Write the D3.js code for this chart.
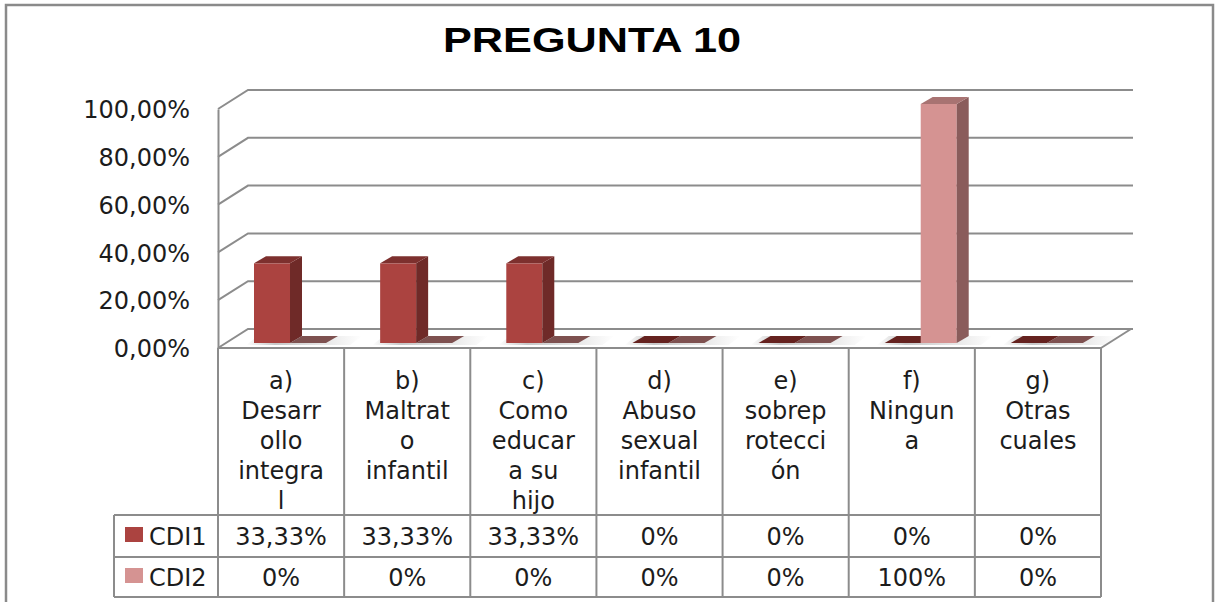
<!DOCTYPE html>
<html>
<head>
<meta charset="utf-8">
<script src="https://cdn.jsdelivr.net/npm/d3@7"></script>
<style>
body { margin: 0; background: #fff; }
#chart text { font-family: "DejaVu Sans", sans-serif; fill: #1c1c1c; }
</style>
</head>
<body>
<div id="chart"></div>
<script>
const title = "PREGUNTA 10"
const categories = ["a", "b", "c", "d", "e", "f", "g"]
const categoryLines = [
    ["a)", "Desarr", "ollo", "integra", "l"],
    ["b)", "Maltrat", "o", "infantil"],
    ["c)", "Como", "educar", "a su", "hijo"],
    ["d)", "Abuso", "sexual", "infantil"],
    ["e)", "sobrep", "rotecci", "ón"],
    ["f)", "Ningun", "a"],
    ["g)", "Otras", "cuales"]
]
const seriesNames = ["CDI1", "CDI2"]
const cdi1 = [33.33, 33.33, 33.33, 0, 0, 0, 0]
const cdi2 = [0, 0, 0, 0, 0, 100, 0]
const yTicks = [0, 20, 40, 60, 80, 100]

const colors = {
    CDI1: { front: "#ab4340", side: "#6f2a28", top: "#7d302e", flat: "#65221f" },
    CDI2: { front: "#d59392", side: "#8a5c5b", top: "#a87372", flat: "#7e5150" }
}

class Pregunta {

    constructor(el) {

        this.el = document.querySelector(el)

        this.width = 1221
        this.height = 602

        this.locale = d3.formatLocale({ decimal: ",", thousands: ".", grouping: [3], currency: ["", "€"] })

        this.x = d3.scaleBand().domain(categories).range([218, 1101])
        this.xs = d3.scaleBand().domain(seriesNames).range([36, 108])
        this.y = d3.scaleLinear().domain([0, 100]).range([348, 109])
        this.yBar = d3.scaleLinear().domain([0, 100]).range([343, 104])

        this.depth = [30, -19]
        this.barDepth = [12, -7]

        this.series = [
            { name: "CDI1", values: cdi1 },
            { name: "CDI2", values: cdi2 }
        ]

        this.svg = d3.select(this.el).append("svg")
            .attr("width", this.width)
            .attr("height", this.height)

        this.drawFrame()
        this.drawWalls()
        this.drawBars()
        this.drawTable()

    }

    pct(v) {
        return Number.isInteger(v) ? v + "%" : this.locale.format(".2f")(v) + "%"
    }

    drawFrame() {

        this.svg.append("rect")
            .attr("x", 6).attr("y", 5)
            .attr("width", 1207).attr("height", 620)
            .attr("fill", "#fff")
            .attr("stroke", "#8a8a8a")
            .attr("stroke-width", 2.5)

        this.svg.append("text")
            .attr("x", 592).attr("y", 52)
            .attr("text-anchor", "middle")
            .attr("textLength", 298)
            .attr("lengthAdjust", "spacingAndGlyphs")
            .style("font-family", "'Liberation Sans', Arial, sans-serif")
            .style("font-weight", "bold")
            .style("font-size", "35px")
            .style("fill", "#000")
            .text(title)

    }

    drawWalls() {

        var self = this
        var [dx, dy] = this.depth
        var x0 = this.x.range()[0], x1 = this.x.range()[1]

        var walls = this.svg.append("g").attr("class", "walls")
            .attr("fill", "none")
            .attr("stroke", "#8c8c8c")
            .attr("stroke-width", 2)

        walls.selectAll("path.grid").data(yTicks)
            .enter().append("path")
            .attr("class", "grid")
            .attr("d", d => `M${x0},${self.y(d)}L${x0 + dx},${self.y(d) + dy}L${x1 + dx + 2},${self.y(d) + dy}`)

        // right edge of the floor
        walls.append("path")
            .attr("d", `M${x1},${this.y(0)}L${x1 + dx},${this.y(0) + dy}`)

        var axis = d3.axisLeft(this.y)
            .tickValues(yTicks)
            .tickFormat(d => this.locale.format(".2f")(d) + "%")
            .tickSize(0)
            .tickPadding(28)

        var g = this.svg.append("g")
            .attr("transform", `translate(${x0},0)`)
            .call(axis)

        g.select(".domain").attr("stroke", "#8c8c8c").attr("stroke-width", 2)
        g.selectAll("text")
            .attr("dy", "0.36em")
            .style("font-size", "24px")
            .style("font-family", "'DejaVu Sans', sans-serif")
            .attr("fill", "#1c1c1c")

    }

    drawBars() {

        var self = this
        var [bdx, bdy] = this.barDepth
        var w = this.xs.bandwidth()

        var defs = this.svg.append("defs")
        var grad = defs.append("linearGradient").attr("id", "floorShadow")
        grad.append("stop").attr("offset", "0%").attr("stop-color", "#9a9a9a").attr("stop-opacity", 0)
        grad.append("stop").attr("offset", "25%").attr("stop-color", "#9a9a9a").attr("stop-opacity", 0.55)
        grad.append("stop").attr("offset", "100%").attr("stop-color", "#9a9a9a").attr("stop-opacity", 0)

        var shadow = this.svg.append("g").attr("class", "shadow")

        shadow.selectAll("path").data(categories)
            .enter().append("path")
            .attr("fill", "url(#floorShadow)")
            .attr("d", c => {
                var a = self.x(c) + 28, b = self.x(c) + self.x.bandwidth() + 6
                var y0 = self.yBar(0) + 2
                return `M${a},${y0}L${b},${y0}L${b + bdx},${y0 + bdy - 2}L${a + bdx},${y0 + bdy - 2}Z`
            })

        var bars = this.svg.append("g").attr("class", "bars")

        categories.forEach((c, i) => {

            this.series.forEach(s => {

                var v = s.values[i]
                var col = colors[s.name]
                var x0 = self.x(c) + self.xs(s.name)
                var yb = self.yBar(0)
                var yt = self.yBar(v)

                var g = bars.append("g").attr("class", "bar")

                if (v > 0) {

                    g.append("rect")
                        .attr("x", x0).attr("y", yt)
                        .attr("width", w).attr("height", yb - yt)
                        .attr("fill", col.front)

                    g.append("path")
                        .attr("fill", col.side)
                        .attr("d", `M${x0 + w},${yt}L${x0 + w + bdx},${yt + bdy}L${x0 + w + bdx},${yb + bdy}L${x0 + w},${yb}Z`)

                }

                g.append("path")
                    .attr("fill", v > 0 ? col.top : col.flat)
                    .attr("d", `M${x0},${yt}L${x0 + bdx},${yt + bdy}L${x0 + w + bdx},${yt + bdy}L${x0 + w},${yt}Z`)

            })

        })

    }

    drawTable() {

        var self = this
        var x0 = this.x.range()[0], x1 = this.x.range()[1]
        var bw = this.x.bandwidth()
        var legendLeft = 114
        var rows = [348, 515, 557, 597]

        var grid = this.svg.append("g").attr("class", "table-grid")
            .attr("stroke", "#8c8c8c")
            .attr("stroke-width", 2)

        grid.append("line").attr("x1", x0).attr("x2", x1).attr("y1", rows[0]).attr("y2", rows[0])

        rows.slice(1).forEach(r => {
            grid.append("line").attr("x1", legendLeft).attr("x2", x1).attr("y1", r).attr("y2", r)
        })

        grid.append("line").attr("x1", legendLeft).attr("x2", legendLeft).attr("y1", rows[1]).attr("y2", rows[3])

        d3.range(categories.length + 1).forEach(i => {
            var xx = x0 + i * bw
            grid.append("line").attr("x1", xx).attr("x2", xx).attr("y1", rows[0]).attr("y2", rows[3])
        })

        var head = this.svg.append("g").attr("class", "table-head")

        categories.forEach((c, i) => {
            head.append("text")
                .attr("text-anchor", "middle")
                .style("font-size", "24px")
                .selectAll("tspan").data(categoryLines[i])
                .enter().append("tspan")
                .attr("x", self.x(c) + bw / 2)
                .attr("y", (d, j) => 389 + j * 30)
                .text(d => d)
        })

        var baselines = [545, 586]

        this.series.forEach((s, k) => {

            var g = this.svg.append("g").attr("class", "row-" + s.name)

            g.append("rect")
                .attr("x", 125).attr("y", baselines[k] - 18)
                .attr("width", 18).attr("height", 15)
                .attr("fill", colors[s.name].front)

            g.append("text")
                .attr("x", 149).attr("y", baselines[k])
                .style("font-size", "24px")
                .text(s.name)

            g.selectAll("text.val").data(s.values)
                .enter().append("text")
                .attr("class", "val")
                .attr("text-anchor", "middle")
                .attr("x", (d, i) => self.x(categories[i]) + bw / 2)
                .attr("y", baselines[k])
                .style("font-size", "24px")
                .text(d => self.pct(d))

        })

    }
}

new Pregunta("#chart")
</script>
</body>
</html>
